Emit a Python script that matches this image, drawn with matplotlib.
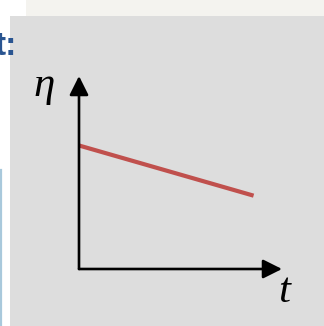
import matplotlib
matplotlib.use("Agg")
import matplotlib.pyplot as plt
from matplotlib.patches import Rectangle

# viscosity falling linearly with time
t = [0.0, 0.86]
eta = [0.64, 0.38]

W, H = 324, 326
fig = plt.figure(figsize=(W / 100, H / 100), dpi=100)
fig.patch.set_facecolor("white")

# slide background in pixel coordinates
bg = fig.add_axes([0, 0, 1, 1])
bg.set_xlim(0, W)
bg.set_ylim(H, 0)
bg.axis("off")
bg.add_patch(Rectangle((26, 0), W - 26, 16, color="#f4f3ef", lw=0))
bg.add_patch(Rectangle((10, 16), W - 10, H - 16, color="#dddddd", lw=0))
bg.plot([1, 1], [170, H], color="#a9c9dc", lw=1.6)
bg.text(17, 55, "t:", ha="right", va="baseline", fontsize=24,
        fontweight="bold", color="#2a5591", family="Liberation Sans")

# sketch axes
x0, x1, y0, y1 = 79, 282, 269, 76
ax = fig.add_axes([x0 / W, (H - y0) / H, (x1 - x0) / W, (y0 - y1) / H])
ax.set_xlim(0, 1)
ax.set_ylim(0, 1)
ax.axis("off")
ax.patch.set_alpha(0)

ax.plot(t, eta, color="#c0504d", lw=3, solid_capstyle="butt")

arrow = dict(arrowstyle="-|>,head_length=0.8,head_width=0.4", color="black",
             lw=1.9, mutation_scale=14.4, shrinkA=0, shrinkB=0)
ax.annotate("", xy=(0, 1), xytext=(0, 0), xycoords="axes fraction", arrowprops=arrow)
ax.annotate("", xy=(1, 0), xytext=(0, 0), xycoords="axes fraction", arrowprops=arrow)

ax.text(-0.172, 0.95, "η", transform=ax.transAxes, ha="center", va="center",
        fontsize=31, style="italic", family="Liberation Serif")
ax.text(1.01, -0.12, "t", transform=ax.transAxes, ha="center", va="center",
        fontsize=31, style="italic", family="Liberation Serif")

fig.savefig("out.png", dpi=100)
